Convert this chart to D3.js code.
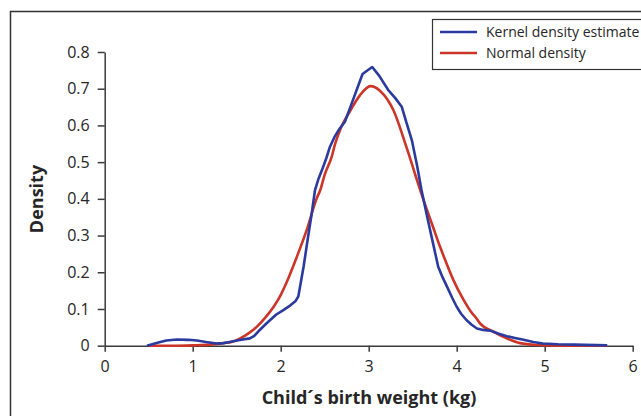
<!DOCTYPE html>
<html>
<head>
    <meta charset="utf-8">
    <title>Birth weight density</title>
    <script src="https://cdn.jsdelivr.net/npm/d3@7"></script>
    <style>
        html, body {
            margin: 0;
            background-color: #fff;
            font-family: "Open Sans", Arial, sans-serif;
        }
        svg .axis path,
        svg .axis line {
            stroke: #3a3a3a;
            stroke-width: 1.5;
        }
        svg .axis text {
            font-family: "Open Sans", Arial, sans-serif;
            font-size: 16px;
            fill: #262626;
        }
        svg .title {
            font-weight: bold;
            font-size: 18px;
            fill: #262626;
        }
        svg .curve {
            fill: none;
            stroke-width: 2.6;
            stroke-linejoin: round;
        }
    </style>
</head>
<body>
<svg></svg>
<script>
    // values
    var kdeX = [0.48, 0.60, 0.70, 0.82, 0.95, 1.05, 1.15, 1.27, 1.35, 1.42, 1.55, 1.65, 1.70, 1.75,
                1.84, 1.95, 2.03, 2.11, 2.17, 2.20, 2.26, 2.31, 2.35, 2.39, 2.43, 2.47, 2.52, 2.56, 2.61, 2.66,
                2.73, 2.83, 2.93, 3.04, 3.12, 3.22, 3.30, 3.375, 3.43, 3.49, 3.55, 3.60, 3.67,
                3.73, 3.79, 3.84, 3.89, 3.95, 4.00, 4.05, 4.11, 4.17, 4.23, 4.30, 4.38, 4.47, 4.57, 4.66, 4.76,
                4.87, 4.98, 5.15, 5.33, 5.71];
    var kdeY = [0.000, 0.008, 0.014, 0.017, 0.016, 0.014, 0.010, 0.006, 0.007, 0.010, 0.016, 0.020, 0.027, 0.040,
                0.061, 0.085, 0.097, 0.110, 0.122, 0.134, 0.215, 0.295, 0.356, 0.424, 0.455, 0.479, 0.512, 0.542, 0.568, 0.588,
                0.610, 0.675, 0.740, 0.759, 0.735, 0.697, 0.675, 0.651, 0.607, 0.560, 0.490, 0.424, 0.345,
                0.280, 0.215, 0.186, 0.161, 0.130, 0.106, 0.087, 0.070, 0.057, 0.047, 0.043, 0.041, 0.033, 0.026, 0.021, 0.016,
                0.010, 0.006, 0.004, 0.003, 0.001];

    var normX = [0.50, 0.80, 1.00, 1.20, 1.35, 1.45, 1.54, 1.63, 1.73, 1.82, 1.92, 2.00,
                 2.07, 2.18, 2.30, 2.41, 2.45, 2.50, 2.58, 2.62, 2.67, 2.79, 2.90, 3.02,
                 3.13, 3.28, 3.43, 3.58, 3.66, 3.73, 3.81, 3.85, 3.96, 4.075, 4.17, 4.21,
                 4.265, 4.42, 4.57, 4.72, 4.91, 5.20, 5.71];
    var normY = [0.000, 0.000, 0.001, 0.003, 0.007, 0.011, 0.020, 0.033, 0.052, 0.075, 0.106, 0.138,
                 0.174, 0.240, 0.318, 0.402, 0.424, 0.466, 0.515, 0.551, 0.585, 0.640, 0.682, 0.707,
                 0.694, 0.642, 0.540, 0.428, 0.371, 0.324, 0.270, 0.245, 0.180, 0.126, 0.090, 0.079,
                 0.061, 0.038, 0.020, 0.007, 0.002, 0.000, 0.000];

    var xTicks = [0, 1, 2, 3, 4, 5, 6];
    var yTicks = [0, 0.1, 0.2, 0.3, 0.4, 0.5, 0.6, 0.7, 0.8];

    var series = [
        { name: 'Kernel density estimate', color: '#2b3a9e', xs: kdeX, ys: kdeY, curve: d3.curveLinear },
        { name: 'Normal density', color: '#cc3527', xs: normX, ys: normY, curve: d3.curveMonotoneX }
    ];

    var w = 641, h = 416;
    var svg = d3.select('svg').attr('width', w).attr('height', h);

    // outer chart frame (runs off the right and bottom edges)
    svg.append('rect')
        .attr('x', 10.5).attr('y', 11.5)
        .attr('width', 700).attr('height', 500)
        .style('fill', 'none')
        .style('stroke', '#333')
        .style('stroke-width', 1.5);

    var x = d3.scaleLinear().domain([0, 6]).range([104.7, 632.7]);
    var y = d3.scaleLinear().domain([0, 0.8]).range([345.7, 52]);

    var fmt = function (d) { return d === 0 ? '0' : d3.format('.1f')(d); };

    svg.append('g')
        .attr('class', 'axis')
        .attr('transform', 'translate(0,' + y(0) + ')')
        .call(d3.axisBottom(x).tickValues(xTicks).tickFormat(d3.format('d'))
            .tickSize(6).tickSizeOuter(0).tickPadding(8))
        .selectAll('text').attr('dy', '0.75em');

    svg.append('g')
        .attr('class', 'axis')
        .attr('transform', 'translate(' + x(0) + ',0)')
        .call(d3.axisLeft(y).tickValues(yTicks).tickFormat(fmt).tickSize(7).tickSizeOuter(0).tickPadding(8));

    // normal first, kernel estimate on top
    series.slice().reverse().forEach(function (s) {
        var line = d3.line()
            .x(function (d) { return x(d[0]); })
            .y(function (d) { return y(d[1]); })
            .curve(s.curve);
        svg.append('path')
            .attr('class', 'curve')
            .attr('d', line(d3.zip(s.xs, s.ys)))
            .style('stroke', s.color);
    });

    // axis titles
    svg.append('text')
        .attr('class', 'title')
        .attr('text-anchor', 'middle')
        .attr('x', 369).attr('y', 404)
        .text('Child\u00b4s birth weight (kg)');

    svg.append('text')
        .attr('class', 'title')
        .attr('text-anchor', 'middle')
        .attr('transform', 'translate(43,199)rotate(-90)')
        .text('Density');

    // legend
    var leg = svg.append('g').attr('transform', 'translate(432,19)');
    leg.append('rect')
        .attr('x', 0.5).attr('y', 0.5)
        .attr('width', 260).attr('height', 50)
        .style('fill', '#fff')
        .style('stroke', '#333')
        .style('stroke-width', 1.2);

    var item = leg.selectAll('g.item')
        .data(series)
        .enter().append('g')
        .attr('class', 'item')
        .attr('transform', function (d, i) { return 'translate(0,' + (13 + i * 21) + ')'; });

    item.append('line')
        .attr('x1', 8).attr('x2', 45)
        .style('stroke', function (d) { return d.color; })
        .style('stroke-width', 2.6);

    item.append('text')
        .attr('x', 54).attr('dy', '0.35em')
        .style('font-size', '14px')
        .style('fill', '#262626')
        .text(function (d) { return d.name; });
</script>
</body>
</html>
